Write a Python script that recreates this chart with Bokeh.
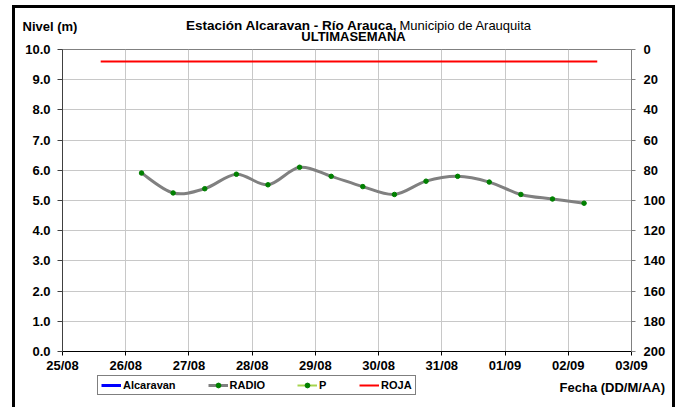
import datetime as dt
from bokeh.plotting import figure
from bokeh.layouts import column, row
from bokeh.models import (Range1d, LinearAxis, FixedTicker, DatetimeTickFormatter,
                          NumeralTickFormatter, Label, Legend, LegendItem, ColumnDataSource, Div)
from bokeh.embed import file_html
from bokeh.resources import INLINE

# ---------------- data ----------------
radio_times = ["2015-08-26 06:00", "2015-08-26 18:00", "2015-08-27 06:00", "2015-08-27 18:00",
               "2015-08-28 06:00", "2015-08-28 18:00", "2015-08-29 06:00", "2015-08-29 18:00",
               "2015-08-30 06:00", "2015-08-30 18:00", "2015-08-31 06:00", "2015-08-31 18:00",
               "2015-09-01 06:00", "2015-09-01 18:00", "2015-09-02 06:00"]
radio_levels = [5.91, 5.25, 5.39, 5.87, 5.52, 6.10, 5.80, 5.46, 5.20, 5.64, 5.80, 5.61, 5.20, 5.05, 4.91]

roja_times = ["2015-08-25 14:30", "2015-09-02 11:00"]
roja_levels = [9.6, 9.6]

# series present in the legend but without readings in this week
alcaravan_times = []
alcaravan_levels = []
p_times = []
p_values = []

day_ticks = ["2015-08-25", "2015-08-26", "2015-08-27", "2015-08-28", "2015-08-29",
             "2015-08-30", "2015-08-31", "2015-09-01", "2015-09-02", "2015-09-03"]
level_ticks = [0, 1, 2, 3, 4, 5, 6, 7, 8, 9, 10]
precip_ticks = [0, 20, 40, 60, 80, 100, 120, 140, 160, 180, 200]

EPOCH = dt.datetime(1970, 1, 1)


def to_ms(s):
    fmt = "%Y-%m-%d %H:%M" if " " in s else "%Y-%m-%d"
    return (dt.datetime.strptime(s, fmt) - EPOCH).total_seconds() * 1000.0


rx = [to_ms(t) for t in radio_times]
ry = radio_levels
tick_ms = [to_ms(t) for t in day_ticks]

# smoothed (Catmull-Rom / Excel style) bezier segments built from the data points
n = len(rx)
seg = dict(x0=[], y0=[], x1=[], y1=[], cx0=[], cy0=[], cx1=[], cy1=[])
for i in range(n - 1):
    ia, ib = max(i - 1, 0), min(i + 2, n - 1)
    seg["x0"].append(rx[i]); seg["y0"].append(ry[i])
    seg["x1"].append(rx[i + 1]); seg["y1"].append(ry[i + 1])
    seg["cx0"].append(rx[i] + (rx[i + 1] - rx[ia]) / 6.0)
    seg["cy0"].append(ry[i] + (ry[i + 1] - ry[ia]) / 6.0)
    seg["cx1"].append(rx[i + 1] - (rx[ib] - rx[i]) / 6.0)
    seg["cy1"].append(ry[i + 1] - (ry[ib] - ry[i]) / 6.0)

FONT = "Liberation Sans"
GRAY = "#808080"
GREEN = "#008000"
PGREEN = "#a6d44f"
BLUE = "#0000ff"
RED = "#ff0000"

# ================= main chart =================
fig = figure(width=679, height=396, x_axis_type="datetime",
             x_range=Range1d(tick_ms[0], tick_ms[-1]), y_range=Range1d(0, 10),
             output_backend="svg", toolbar_location=None,
             min_border_left=62, min_border_right=48, min_border_top=70, min_border_bottom=22)
fig.title = None
fig.outline_line_color = GRAY
fig.background_fill_color = "white"
fig.border_fill_alpha = 0

fig.extra_y_ranges = {"precip": Range1d(start=200, end=0)}

xa = fig.xaxis[0]
xa.ticker = FixedTicker(ticks=tick_ms)
xa.formatter = DatetimeTickFormatter(days="%d/%m", months="%d/%m", hours="%d/%m",
                                     hourmin="%d/%m", minutes="%d/%m", years="%d/%m")
ya = fig.yaxis[0]
ya.ticker = FixedTicker(ticks=level_ticks)
ya.formatter = NumeralTickFormatter(format="0.0")

ra = LinearAxis(y_range_name="precip", ticker=FixedTicker(ticks=precip_ticks))
fig.add_layout(ra, "right")

for ax, col, out, so in ((xa, "black", 4, 2), (ya, "#404040", 5, 7), (ra, GRAY, 4, 8)):
    ax.axis_line_color = col
    ax.major_tick_line_color = col
    ax.major_tick_in = 0
    ax.major_tick_out = out
    ax.minor_tick_line_color = None
    ax.major_label_standoff = so
    ax.major_label_text_font = FONT
    ax.major_label_text_font_style = "bold"
    ax.major_label_text_font_size = "13px"
    ax.major_label_text_color = "black"

fig.xgrid.ticker = FixedTicker(ticks=tick_ms)
fig.ygrid.ticker = FixedTicker(ticks=level_ticks)
fig.grid.grid_line_color = "#c8c8c8"
fig.grid.grid_line_width = 1

fig.line(x=[to_ms(t) for t in alcaravan_times], y=alcaravan_levels, line_color=BLUE, line_width=3)
fig.bezier(x0="x0", y0="y0", x1="x1", y1="y1", cx0="cx0", cy0="cy0",
           cx1="cx1", cy1="cy1", source=ColumnDataSource(seg), line_color=GRAY, line_width=3)
fig.scatter(x=rx, y=ry, marker="circle", size=4.5, fill_color=GREEN, line_color=GREEN)
fig.line(x=[to_ms(t) for t in p_times], y=p_values, line_color=PGREEN, line_width=2,
         y_range_name="precip")
fig.scatter(x=[to_ms(t) for t in p_times], y=p_values, marker="circle", size=4,
            fill_color=GREEN, line_color=GREEN, y_range_name="precip")
fig.line(x=[to_ms(t) for t in roja_times], y=roja_levels, line_color=RED, line_width=2)


def mk(text, x, y, align="left", style="bold", size="13px"):
    return Label(text=text, x=x, y=y, x_units="screen", y_units="screen",
                 text_align=align, text_baseline="alphabetic",
                 text_font=FONT, text_font_style=style,
                 text_font_size=size, text_color="black")

# texts above the frame (each Label sits in its own stacked side panel)
fig.add_layout(mk("ULTIMASEMANA", 291, 13.2, align="center"), "above")
fig.add_layout(mk("Estación Alcaravan - Río Arauca,", 335, 9.2, align="right", size="13.5px"), "above")
fig.add_layout(mk("Municipio de Arauquita", 337, -5.8, style="normal"), "above")
fig.add_layout(mk("Nivel (m)", -40, -21.5), "above")

# ================= legend strip =================
leg = figure(width=540, height=32, x_range=Range1d(0, 1), y_range=Range1d(0, 1),
             output_backend="svg", toolbar_location=None,
             min_border_left=62, min_border_right=0, min_border_top=0, min_border_bottom=0,
             x_axis_location=None, y_axis_location=None)
leg.title = None
leg.grid.visible = False
leg.outline_line_color = None
leg.background_fill_alpha = 0
leg.border_fill_alpha = 0

NA = [float("nan")]  # legend keys only: nothing is drawn in the strip itself
g_alc = leg.line(x=NA, y=NA, line_color=BLUE, line_width=3)
g_radio = leg.line(x=NA, y=NA, line_color=GRAY, line_width=3)
g_radio_pt = leg.scatter(x=NA, y=NA, marker="circle", size=4.5, fill_color=GREEN, line_color=GREEN)
g_p = leg.line(x=NA, y=NA, line_color=PGREEN, line_width=2)
g_p_pt = leg.scatter(x=NA, y=NA, marker="circle", size=4, fill_color=GREEN, line_color=GREEN)
g_roja = leg.line(x=NA, y=NA, line_color=RED, line_width=2)

legend = Legend(items=[LegendItem(label="Alcaravan", renderers=[g_alc]),
                       LegendItem(label="RADIO", renderers=[g_radio, g_radio_pt]),
                       LegendItem(label="P", renderers=[g_p, g_p_pt]),
                       LegendItem(label="ROJA", renderers=[g_roja])],
                location=(35, 11.7), orientation="horizontal",
                border_line_color="black", border_line_width=1,
                padding=3, spacing=32, margin=0,
                glyph_width=20, glyph_height=12, label_standoff=2, label_width=8, label_height=12,
                label_text_font=FONT, label_text_font_style="bold",
                label_text_font_size="11px", label_text_color="black",
                background_fill_color="white", background_fill_alpha=1)
leg.add_layout(legend, "center")

fecha = Div(text="Fecha (DD/M/AA)", width=139, height=32, margin=0,
            styles={"font-family": FONT, "font-size": "13px", "font-weight": "bold",
                    "color": "black", "text-align": "right", "padding-right": "14px",
                    "padding-top": "5px", "line-height": "15px", "box-sizing": "border-box",
                    "white-space": "nowrap"})

# outer chart-area frame (left, top, right edges) drawn as the page element's background
p = column(fig, row(leg, fecha, spacing=0), spacing=0)
p.styles = {"margin-top": "-21px",
            "background-image": "linear-gradient(#000,#000),linear-gradient(#000,#000),"
                                "linear-gradient(#000,#000)",
            "background-size": "3px 420px, 3px 420px, 663px 3px",
            "background-position": "12px 26px, 672px 26px, 12px 26px",
            "background-repeat": "no-repeat"}

open("out.html", "w").write(file_html(p, INLINE))
